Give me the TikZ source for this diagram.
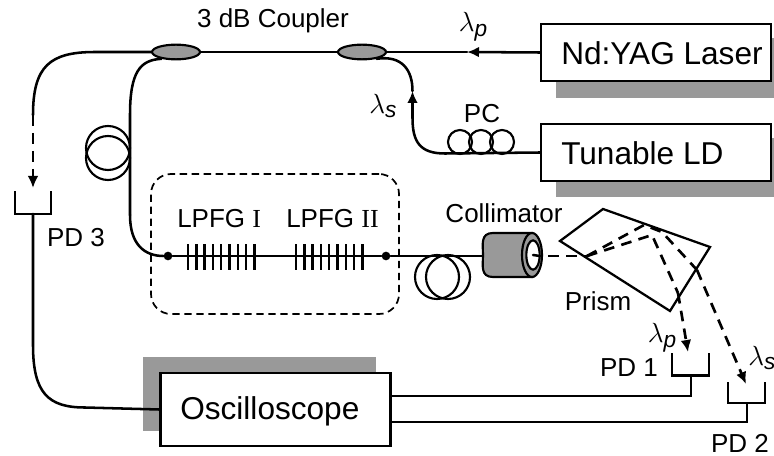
\documentclass[tikz,border=0pt]{standalone}
\usepackage{fontspec}
\setmainfont{Liberation Sans}
\newfontfamily\serifrm{Liberation Serif}
\usetikzlibrary{shapes.geometric,arrows.meta}
\definecolor{shade}{HTML}{999999}
\newcommand{\lam}[1]{$\lambda$\raisebox{-3.5pt}{\fontsize{17}{20}\selectfont\itshape #1}}
\tikzset{
  fiber/.style={line width=1.9pt,line cap=round},
  thinline/.style={line width=1.6pt},
  beam/.style={line width=2pt,dash pattern=on 8pt off 5.5pt},
  tip/.style={-{Latex[length=9pt,width=8pt]}},
  box/.style={draw,line width=1.7pt,fill=white,inner sep=0pt},
  shadowbox/.style={fill=shade,draw=none},
  coupler/.style={ellipse,draw,line width=1.6pt,fill=shade,inner sep=0pt,minimum width=36pt,minimum height=11pt},
  loopc/.style={circle,draw,line width=1.6pt,inner sep=0pt,minimum size=33pt},
  pcc/.style={circle,draw,line width=1.6pt,inner sep=0pt,minimum size=18pt},
  big/.style={font=\fontsize{23.7}{28}\selectfont,inner sep=0pt},
  lbl/.style={font=\fontsize{19.5}{23}\selectfont,inner sep=0pt},
  dotn/.style={circle,fill=black,inner sep=0pt,minimum size=6.5pt},
  cup/.style={line width=1.6pt},
  grat/.style={line width=1.8pt}
}
\begin{document}
\begin{tikzpicture}[x=.75pt,y=-.75pt]
\useasboundingbox (0,0) rectangle (774,456);
% shadows
\fill[shadowbox] (556,38) rectangle (774,98);
\fill[shadowbox] (556,138) rectangle (774,197);
\fill[shadowbox] (143,357) rectangle (376,431);
% boxes
\node[box,minimum width=172.5pt,minimum height=42.75pt] (laser) at (656,52.5) {};
\node[box,minimum width=172.5pt,minimum height=42.75pt] (ld) at (656,152.5) {};
\node[box,minimum width=172.5pt,minimum height=54.75pt] (osc) at (275.5,409.5) {};
\node[big,anchor=west] (laserT) at (561,53) {Nd:YAG Laser};
\node[big,anchor=west] (ldT) at (561,153) {Tunable LD};
\node[big,anchor=west] (oscT) at (180,411) {Oscilloscope};
% couplers
\node[coupler] (c1) at (176,52) {};
\node[coupler] (c2) at (362,52) {};
% free points
\coordinate (pa) at (467,52);
\coordinate (sa) at (412.5,91);
\coordinate (fl1) at (130,115);
\coordinate (fl2) at (130,215);
\coordinate (p3d) at (33,115);
\coordinate (p3a) at (33,188);
\coordinate (cupA) at (15,191);
\coordinate (cupB) at (51,191);
\coordinate (s3) at (33,214);
\coordinate (s3low) at (33,345);
% fibers top
\draw[fiber,tip] (laser.west) -- (pa);
\draw[fiber] (pa) -- (c2.east);
\draw[fiber] (c2.west) -- (c1.east);
\draw[fiber] (c1.west) -- (95,52) .. controls (50,52) and (33,66) .. (p3d);
\draw[beam,tip] (p3d) -- (p3a);
\draw[fiber] (c1.205) .. controls (140,60) and (130,72) .. (fl1) -- (fl2);
\draw[fiber,tip] (ld.west) -- (445,153.5) .. controls (420,153.5) and (412.5,142) .. (412.5,118) -- (sa);
\draw[fiber] (sa) .. controls (412.5,70) and (402,55) .. (c2.335);
% PD3
\draw[cup] (cupA) |- (s3) -| (cupB);
\draw[fiber] (s3) -- (s3low) .. controls (33,393) and (48,407.5) .. (85,407.5) -- (osc.west);
% loops
\node[loopc] (l1a) at (108,148) {};
\node[loopc] (l1b) at (108,158) {};
\node[pcc] (pc1) at (460,142) {};
\node[pcc] (pc2) at (481,142) {};
\node[pcc] (pc3) at (502,142) {};
\node[loopc] (l2a) at (437,277) {};
\node[loopc] (l2b) at (448,277) {};
\node[lbl] (pcT) at (482,114) {PC};
% LPFG
\node[dotn] (d1) at (168,256) {};
\node[dotn] (d2) at (386,256) {};
\draw[fiber] (fl2) .. controls (130,245) and (145,256) .. (d1);
\draw[fiber] (d1) -- (d2);
\foreach \i in {0,...,8}{
  \draw[grat] ({188+\i*8.3},244) -- ({188+\i*8.3},270);
  \draw[grat] ({296+\i*8.3},244) -- ({296+\i*8.3},270);
}
\node[draw,dash pattern=on 5.5pt off 3.5pt,line width=1.3pt,rounded corners=15pt,minimum width=186pt,minimum height=105pt,inner sep=0pt] (frame) at (275,244) {};
\node[lbl,anchor=west] (g1) at (177,219) {LPFG {\serifrm I}};
\node[lbl,anchor=west] (g2) at (286,219) {LPFG {\serifrm II}};
% collimator
\coordinate (colL) at (483,256);
\draw[fiber] (d2) -- (colL);
\draw[line width=1.6pt,fill=shade] (532,233) -- (493,233) .. controls (480,233) and (483,245) .. (483,255) .. controls (483,265) and (480,277) .. (493,277) -- (532,277) -- cycle;
\node[ellipse,draw,line width=1.6pt,fill=shade,inner sep=0pt,minimum width=15pt,minimum height=33pt] (colO) at (532,255) {};
\node[ellipse,draw,line width=1.6pt,fill=white,inner sep=0pt,minimum width=10pt,minimum height=22pt] (colI) at (533,255) {};
\node[lbl] (colT) at (504,213) {Collimator};
% prism
\coordinate (pr1) at (603,209);
\coordinate (pr2) at (710,247);
\coordinate (pr3) at (670,311);
\coordinate (pr4) at (560,241);
\coordinate (in) at (587,256);
\draw[line width=1.7pt,line join=miter] (pr1) -- (pr2) -- (pr3) -- (pr4) -- cycle;
\node[lbl] (prT) at (598,301) {Prism};
\draw[fiber] (colI.center) -- (540,256);
\draw[beam] (548,256) -- (in);
\draw[beam,line join=miter] (in) -- (652,235) -- (678,293);
\draw[beam,tip] (678,293) -- (688,352);
\draw[beam,line join=miter] (in) -- (644,225) -- (662,232) -- (697,270);
\draw[beam,tip] (697,270) -- (746,384);
% PD1, PD2
\coordinate (s1) at (691,375.5);
\coordinate (s2) at (747,403);
\draw[cup] (672,353) |- (s1) -| (709,353);
\draw[cup] (728,382) |- (s2) -| (765,382);
\draw[thinline] (s1) |- (osc.east |- 0,396);
\draw[thinline] (s2) |- (osc.east |- 0,422);
% labels
\node[lbl] (cT) at (273,21) {3 dB Coupler};
\node[lbl] (p3T) at (76,238) {PD 3};
\node[lbl] (p1T) at (629,368) {PD 1};
\node[lbl] (p2T) at (740,443) {PD 2};
\node[lbl] (lp1) at (473,27) {\lam{p}};
\node[lbl] (ls1) at (383,106) {\lam{s}};
\node[lbl] (lp2) at (662,338) {\lam{p}};
\node[lbl,anchor=west] (ls2) at (748,358) {\lam{s}};
\end{tikzpicture}
\end{document}
